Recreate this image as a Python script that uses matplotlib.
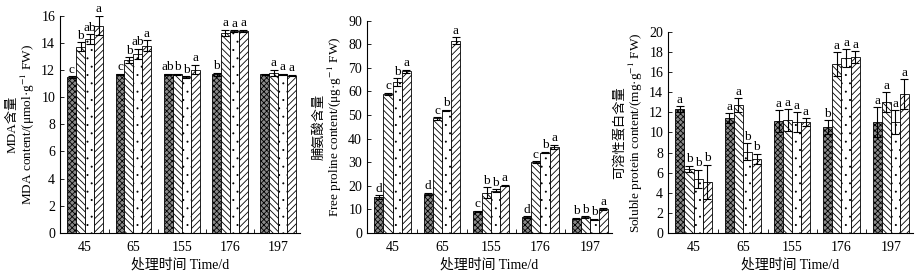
import numpy as np
import matplotlib
matplotlib.use("Agg")
import matplotlib.pyplot as plt
import matplotlib.hatch

plt.rcParams['font.family'] = ['Liberation Serif', 'Noto Sans CJK SC', 'DejaVu Sans']
plt.rcParams['mathtext.fontset'] = 'stix'
plt.rcParams['hatch.linewidth'] = 0.6
# smaller dots for the '.' hatch
matplotlib.hatch.SmallFilledCircles.size = 0.07

# --- data (4 treatments x 5 sampling days) ---
days = ['45', '65', '155', '176', '197']

mda_mean = [[11.5, 11.7, 11.7, 11.7, 11.7],
            [13.75, 12.75, 11.7, 14.75, 11.8],
            [14.3, 13.2, 11.5, 14.9, 11.7],
            [15.3, 13.8, 12.05, 14.9, 11.6]]
mda_err = [[0.05, 0.05, 0.05, 0.1, 0.05],
           [0.3, 0.2, 0.05, 0.25, 0.25],
           [0.35, 0.4, 0.05, 0.05, 0.05],
           [0.7, 0.4, 0.35, 0.1, 0.05]]
mda_sig = [['c', 'c', 'ab', 'b', ''],
           ['b', 'b', 'b', 'a', 'a'],
           ['ab', 'ab', 'b', 'a', 'a'],
           ['a', 'a', 'a', 'a', 'a']]

pro_mean = [[15.0, 16.5, 9.0, 6.5, 6.0],
            [59.0, 48.5, 17.0, 30.0, 6.5],
            [64.0, 52.0, 17.8, 34.0, 5.5],
            [68.5, 81.5, 20.0, 36.5, 10.0]]
pro_err = [[0.8, 0.5, 0.3, 0.4, 0.3],
           [0.5, 0.5, 2.2, 0.3, 0.4],
           [1.5, 0.3, 0.6, 0.3, 0.3],
           [0.8, 1.5, 0.3, 0.8, 0.3]]
pro_sig = [['d', 'd', 'c', 'd', 'b'],
           ['c', 'c', 'b', 'c', 'b'],
           ['b', 'b', 'b', 'b', 'b'],
           ['a', 'a', 'a', 'a', 'a']]

prot_mean = [[12.3, 11.4, 11.1, 10.5, 11.0],
             [6.4, 12.7, 11.2, 16.8, 13.0],
             [5.4, 8.1, 11.0, 17.4, 11.0],
             [5.1, 7.4, 11.0, 17.5, 13.8]]
prot_err = [[0.3, 0.5, 1.1, 0.7, 1.5],
            [0.3, 0.7, 1.1, 1.2, 1.0],
            [0.9, 0.8, 1.0, 0.9, 1.2],
            [1.7, 0.5, 0.4, 0.6, 1.5]]
prot_sig = [['a', 'a', 'a', 'b', 'a'],
            ['b', 'a', 'a', 'a', 'a'],
            ['b', 'b', 'a', 'a', 'a'],
            ['b', 'b', 'a', 'a', 'a']]

# bar styles per treatment
faces = ['#8a8a8a', 'white', 'white', 'white']
hatches = ['xxxxxx', '\\\\\\\\\\', '..', '/////']

panels = [
    dict(mean=mda_mean, err=mda_err, sig=mda_sig, ylim=16, step=2,
         ylabel='MDA含量\nMDA content/(μmol·g$^{-1}$ FW)',
         rect=[0.065, 0.160, 0.260, 0.782]),
    dict(mean=pro_mean, err=pro_err, sig=pro_sig, ylim=90, step=10,
         ylabel='脯氨酸含量\nFree proline content/(μg·g$^{-1}$ FW)',
         rect=[0.3976, 0.160, 0.2654, 0.765]),
    dict(mean=prot_mean, err=prot_err, sig=prot_sig, ylim=20, step=2,
         ylabel='可溶性蛋白含量\nSoluble protein content/(mg·g$^{-1}$ FW)',
         rect=[0.7237, 0.160, 0.2654, 0.7235]),
]

fig = plt.figure(figsize=(9.23, 2.77), dpi=100)
x = np.arange(len(days))
w = 0.185

for p in panels:
    ax = fig.add_axes(p['rect'])
    for k in range(4):
        xs = x + (k - 1.5) * w
        ax.bar(xs, p['mean'][k], w, color=faces[k], edgecolor='black',
               linewidth=0.6, hatch=hatches[k], zorder=2)
        ax.errorbar(xs, p['mean'][k], yerr=p['err'][k], fmt='none',
                    ecolor='black', elinewidth=0.8, capsize=3, capthick=0.8, zorder=3)
        for xi, m, e, s in zip(xs, p['mean'][k], p['err'][k], p['sig'][k]):
            if s:
                ax.annotate(s, (xi, m + e), xytext=(0, 0.5), textcoords='offset points',
                            ha='center', va='bottom', fontsize=9.5)
    ax.set_xlim(-0.52, 4.45)
    ax.set_ylim(0, p['ylim'])
    ax.set_yticks(np.arange(0, p['ylim'] + 0.1, p['step']))
    ax.set_xticks(x)
    ax.set_xticklabels(days)
    ax.set_xticks(x[:-1] + 0.5, minor=True)
    ax.tick_params(axis='x', which='major', length=0, labelsize=10, pad=6)
    ax.tick_params(axis='x', which='minor', direction='in', length=3, width=0.6)
    ax.tick_params(axis='y', direction='in', length=3, width=0.6, labelsize=10)
    for side in ['top', 'right']:
        ax.spines[side].set_visible(False)
    for side in ['left', 'bottom']:
        ax.spines[side].set_linewidth(0.8)
    ax.set_ylabel(p['ylabel'], fontsize=9.5, linespacing=1.05, labelpad=3)
    ax.set_xlabel('处理时间 Time/d', fontsize=10, labelpad=3)

fig.savefig('out.png', dpi=100)
